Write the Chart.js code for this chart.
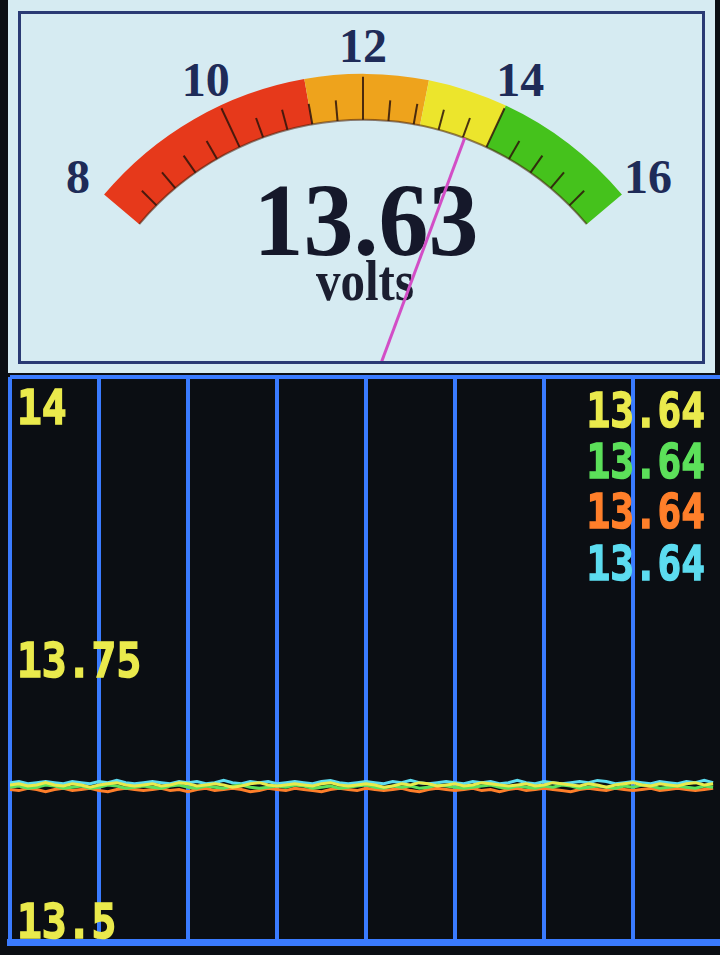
<!DOCTYPE html>
<html>
<head>
<meta charset="utf-8">
<script src="https://cdn.jsdelivr.net/npm/chart.js@4.4.1/dist/chart.umd.min.js"></script>
<style>
  html, body { margin: 0; padding: 0; width: 720px; height: 955px; overflow: hidden; background: #0b0e13; }
  #panel { position: absolute; left: 8px; top: 0; width: 707px; height: 373px; background: #d6ebf2; }
  #frame { position: absolute; left: 18px; top: 11px; width: 681px; height: 347px; border: 3px solid #2a3a74; }
  .glabel { position: absolute; font: bold 48px "Liberation Serif", serif; color: #1e2b58; transform: translate(-50%, -50%); line-height: 1; }
  #reading { position: absolute; left: 366px; top: 221px; font: bold 100px "Liberation Serif", serif; color: #15182a;
             transform: translate(-50%, -50%) scaleY(1.03); line-height: 1; }
  #unit { position: absolute; left: 365px; top: 281px; font: bold 49px "Liberation Serif", serif; color: #1b1e30;
          transform: translate(-50%, -50%) scaleY(1.15); line-height: 1; }
  #gauge { position: absolute; left: 0; top: 0; z-index: 2; }
  #trend { position: absolute; left: 0; top: 372px; }
  .lv { position: absolute; left: 705px; font: bold 48px "DejaVu Sans Mono", monospace; line-height: 1;
        -webkit-text-stroke: 1.5px currentColor;
        transform-origin: right center; transform: translateX(-100%) scaleX(0.82); white-space: nowrap; }
</style>
</head>
<body>
<div id="panel"></div>
<div id="frame"></div>
<div id="reading">13.63</div>
<div id="unit">volts</div>
<canvas id="gauge" width="720" height="372"></canvas>
<canvas id="trend" width="724" height="583"></canvas>
<script>
// gauge
const gaugeBands = [8, 11.2, 12.9, 14, 16];
const bandColors = ["#e6391b", "#eea31c", "#ece52c", "#45c21c"];
const gaugeTicks = [8.4, 8.8, 9.2, 9.6, 10, 10.4, 10.8, 11.2, 11.6, 12, 12.4, 12.8, 13.2, 13.6, 14, 14.4, 14.8, 15.2, 15.6];
const majorTicks = [10, 12, 14];
const gaugeLabels = [8, 10, 12, 14, 16];
const gaugeValue = 13.63;

// trend chart
const yTickValues = [13.5, 13.75, 14];
const yTickLabels = ["13.5", "13.75", "14"];
const seriesNames = ["yellow", "green", "orange", "cyan"];
const seriesColors = ["#eaea4c", "#5ce05a", "#ff7f2a", "#5cdcf0"];

const yellowV = [
  13.639,13.640,13.638,13.639,13.641,13.639,13.638,13.640,13.639,13.637,
  13.639,13.640,13.641,13.639,13.638,13.639,13.640,13.638,13.639,13.641,
  13.640,13.638,13.639,13.640,13.639,13.637,13.638,13.640,13.641,13.639,
  13.638,13.639,13.640,13.639,13.638,13.640,13.641,13.639,13.638,13.639,
  13.640,13.639,13.637,13.638,13.640,13.639,13.641,13.640,13.638,13.639,
  13.640,13.638,13.639,13.641,13.640,13.639,13.638,13.639,13.640,13.638,
  13.639,13.641,13.640,13.639,13.638,13.640,13.639,13.637,13.639,13.640,
  13.641,13.639,13.638,13.640,13.639,13.638,13.640,13.641,13.639,13.640
];
const greenV = [
  13.637,13.638,13.636,13.637,13.639,13.638,13.636,13.637,13.638,13.636,
  13.637,13.639,13.638,13.636,13.637,13.638,13.637,13.636,13.638,13.639,
  13.637,13.636,13.638,13.637,13.636,13.638,13.639,13.637,13.636,13.637,
  13.638,13.637,13.639,13.638,13.636,13.637,13.638,13.636,13.637,13.638,
  13.639,13.637,13.636,13.638,13.637,13.638,13.636,13.637,13.639,13.638,
  13.637,13.636,13.637,13.638,13.639,13.637,13.636,13.638,13.637,13.636,
  13.638,13.637,13.639,13.638,13.636,13.637,13.638,13.637,13.636,13.638,
  13.637,13.639,13.638,13.636,13.637,13.638,13.637,13.636,13.638,13.637
];
const orangeV = [
  13.635,13.634,13.636,13.635,13.633,13.635,13.636,13.634,13.635,13.636,
  13.634,13.633,13.635,13.636,13.635,13.634,13.635,13.636,13.634,13.635,
  13.633,13.635,13.636,13.634,13.635,13.636,13.635,13.633,13.634,13.636,
  13.635,13.634,13.636,13.635,13.634,13.633,13.635,13.636,13.635,13.634,
  13.636,13.635,13.634,13.635,13.636,13.634,13.633,13.635,13.636,13.635,
  13.634,13.635,13.636,13.634,13.635,13.633,13.635,13.636,13.634,13.635,
  13.636,13.635,13.634,13.633,13.635,13.636,13.635,13.634,13.636,13.635,
  13.634,13.635,13.636,13.634,13.635,13.636,13.635,13.634,13.635,13.636
];
const cyanV = [
  13.641,13.642,13.640,13.641,13.642,13.641,13.640,13.642,13.641,13.640,
  13.642,13.641,13.643,13.641,13.640,13.641,13.642,13.641,13.640,13.642,
  13.641,13.642,13.640,13.641,13.643,13.641,13.640,13.642,13.641,13.642,
  13.640,13.641,13.642,13.641,13.640,13.642,13.643,13.641,13.640,13.641,
  13.642,13.641,13.640,13.642,13.641,13.643,13.641,13.640,13.641,13.642,
  13.641,13.640,13.642,13.641,13.642,13.640,13.641,13.643,13.641,13.640,
  13.642,13.641,13.640,13.641,13.642,13.641,13.643,13.642,13.640,13.641,
  13.642,13.641,13.640,13.642,13.641,13.640,13.642,13.641,13.643,13.641
];
const seriesValues = [yellowV, greenV, orangeV, cyanV];

const BLUE = "#3a7bff";

// ---------- gauge ----------
const bandWidths = gaugeBands.slice(1).map((b, i) => +(b - gaugeBands[i]).toFixed(2));

function gaugeAngle(meta, v) {
  const first = meta.data[0];
  const last = meta.data[meta.data.length - 1];
  const lo = gaugeBands[0], hi = gaugeBands[gaugeBands.length - 1];
  return first.startAngle + (v - lo) / (hi - lo) * (last.endAngle - first.startAngle);
}

const gaugeDecor = {
  id: "gaugeDecor",
  afterDatasetsDraw(chart) {
    const meta = chart.getDatasetMeta(0);
    const arc = meta.data[0];
    const cx = arc.x, cy = arc.y, rIn = arc.innerRadius, rOut = arc.outerRadius;
    const ctx = chart.ctx;
    ctx.save();
    // inner edge
    ctx.beginPath();
    ctx.arc(cx, cy, rIn, gaugeAngle(meta, gaugeBands[0]), gaugeAngle(meta, gaugeBands[gaugeBands.length - 1]));
    ctx.strokeStyle = "rgba(70,30,10,0.55)";
    ctx.lineWidth = 2;
    ctx.stroke();
    // tick marks
    ctx.strokeStyle = "rgba(45,20,10,0.85)";
    ctx.lineWidth = 2;
    gaugeTicks.forEach(v => {
      const a = gaugeAngle(meta, v);
      const len = majorTicks.includes(v) ? (rOut - rIn) - 3 : (rOut - rIn) * 0.45;
      ctx.beginPath();
      ctx.moveTo(cx + Math.cos(a) * rIn, cy + Math.sin(a) * rIn);
      ctx.lineTo(cx + Math.cos(a) * (rIn + len), cy + Math.sin(a) * (rIn + len));
      ctx.stroke();
    });
    // needle, clipped to the frame
    ctx.beginPath();
    ctx.rect(0, 0, chart.width, 361);
    ctx.clip();
    const an = gaugeAngle(meta, gaugeValue);
    ctx.strokeStyle = "#d24ec6";
    ctx.lineWidth = 3;
    ctx.beginPath();
    ctx.moveTo(cx, cy);
    ctx.lineTo(cx + Math.cos(an) * rIn, cy + Math.sin(an) * rIn);
    ctx.stroke();
    ctx.restore();
  }
};

const gauge = new Chart(document.getElementById("gauge"), {
  type: "doughnut",
  data: {
    labels: ["low", "charging", "float", "high"],
    datasets: [{
      data: bandWidths,
      backgroundColor: bandColors,
      borderWidth: 0,
      hoverOffset: 0,
    }],
  },
  options: {
    responsive: false,
    animation: false,
    events: [],
    rotation: -50,
    circumference: 100,
    radius: 338,
    cutout: "86.4%",
    layout: { padding: { left: 6, right: 0, top: 0, bottom: 74 } },
    plugins: { legend: { display: false }, tooltip: { enabled: false } },
  },
  plugins: [gaugeDecor],
});

// scale numbers around the dial
(function placeGaugeLabels() {
  const meta = gauge.getDatasetMeta(0);
  const arc = meta.data[0];
  gaugeLabels.forEach(v => {
    const a = gaugeAngle(meta, v);
    const d = document.createElement("div");
    d.className = "glabel";
    d.textContent = v;
    d.style.left = (arc.x + Math.cos(a) * 372) + "px";
    d.style.top = (arc.y + Math.sin(a) * 366) + "px";
    document.body.insertBefore(d, document.getElementById("gauge"));
  });
})();

// ---------- trend ----------
const yLabelPlugin = {
  id: "yLabels",
  afterDraw(chart) {
    const ys = chart.scales.y;
    const left = chart.chartArea.left;
    const ctx = chart.ctx;
    const capH = 35;
    ctx.save();
    ctx.font = "bold 48px 'DejaVu Sans Mono', monospace";
    ctx.fillStyle = seriesColors[0];
    ctx.strokeStyle = seriesColors[0];
    ctx.lineWidth = 1.5;
    ctx.textAlign = "left";
    ctx.textBaseline = "alphabetic";
    yTickValues.forEach((v, i) => {
      const py = ys.getPixelForValue(v);
      let base;
      if (v === ys.max) base = py + 12 + capH;
      else if (v === ys.min) base = py - 4;
      else base = py + capH / 2;
      ctx.save();
      ctx.translate(left + 7, base);
      ctx.scale(0.86, 1);
      ctx.fillText(yTickLabels[i], 0, 0);
      ctx.strokeText(yTickLabels[i], 0, 0);
      ctx.restore();
    });
    ctx.restore();
  }
};

new Chart(document.getElementById("trend"), {
  type: "line",
  data: {
    datasets: seriesValues.map((vals, k) => ({
      label: seriesNames[k],
      data: vals.map((v, i) => ({ x: i, y: v })),
      borderColor: seriesColors[k],
      borderWidth: 3,
      pointRadius: 0,
      tension: 0,
    })),
  },
  options: {
    responsive: false,
    animation: false,
    events: [],
    layout: { padding: { left: 10, right: 2, top: 5, bottom: 13 } },
    scales: {
      x: {
        type: "linear",
        min: 0,
        max: 80,
        ticks: { display: false, stepSize: 10 },
        grid: { color: BLUE, lineWidth: 4, drawTicks: false },
        border: { display: true, color: BLUE, width: 7 },
      },
      y: {
        min: 13.5,
        max: 14,
        afterBuildTicks: s => { s.ticks = yTickValues.map(v => ({ value: v })); },
        ticks: { display: false },
        grid: {
          drawTicks: false,
          lineWidth: 4,
          color: c => (c.tick && c.tick.value !== 13.5 && c.tick.value !== 14) ? "rgba(0,0,0,0)" : BLUE,
        },
        border: { display: false },
      },
    },
    plugins: { legend: { display: false }, tooltip: { enabled: false } },
  },
  plugins: [yLabelPlugin],
});

// latest readings, top right
const readingTops = [386, 437, 487, 539];
seriesValues.forEach((vals, k) => {
  const d = document.createElement("div");
  d.className = "lv";
  d.style.top = readingTops[k] + "px";
  d.style.color = seriesColors[k];
  d.textContent = vals[vals.length - 1].toFixed(2);
  document.body.appendChild(d);
});
</script>
</body>
</html>
